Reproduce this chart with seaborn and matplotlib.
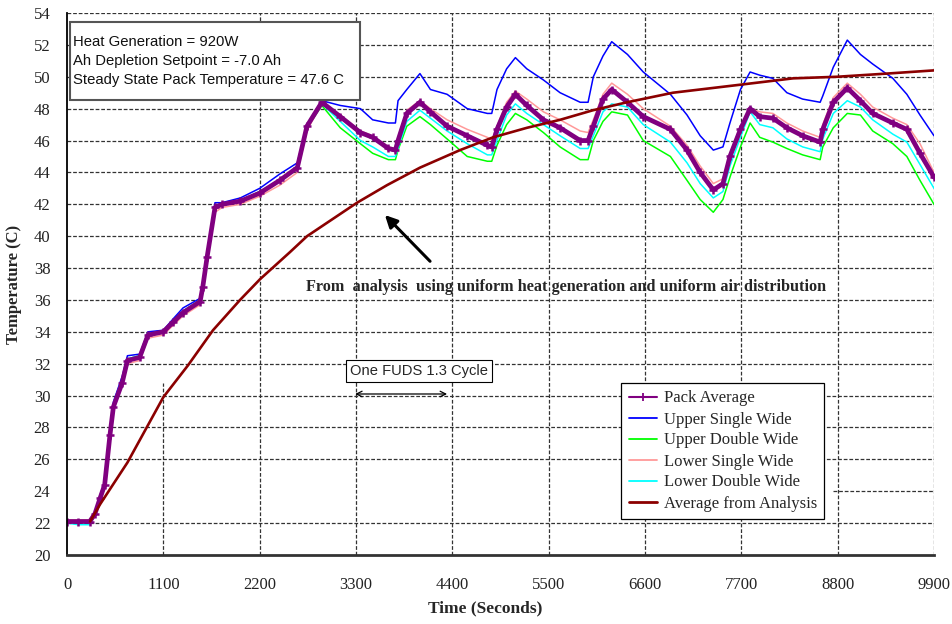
import numpy as np
import pandas as pd
import matplotlib
matplotlib.use("Agg")
import matplotlib.pyplot as plt
from matplotlib.lines import Line2D
from matplotlib.patches import Rectangle
import seaborn as sns

# ---------------- data ----------------
time_s = [0, 130, 260, 320, 380, 430, 490, 530, 630, 690, 830, 925, 1100, 1210, 1325,
          1520, 1550, 1600, 1690, 1770, 1980, 2200, 2430, 2630, 2740, 2910, 3120, 3350,
          3490, 3670, 3750, 3780, 3880, 4030, 4150, 4340, 4570, 4800, 4850, 4910, 5020,
          5120, 5250, 5440, 5630, 5860, 5950, 6010, 6120, 6220, 6400, 6580, 6890, 7080,
          7230, 7380, 7490, 7570, 7690, 7800, 7910, 8060, 8220, 8400, 8600, 8630, 8750,
          8910, 9060, 9200, 9430, 9590, 9740, 9900]

pack_avg = [22.1, 22.1, 22.1, 22.6, 23.6, 24.4, 27.5, 29.3, 30.8, 32.2, 32.4, 33.8, 34.0, 34.6, 35.2,
            35.9, 36.8, 38.7, 41.8, 42.0, 42.2, 42.7, 43.5, 44.3, 46.9, 48.4, 47.5, 46.5,
            46.2, 45.5, 45.4, 46.0, 47.7, 48.4, 47.8, 46.9, 46.3, 45.7, 45.6, 46.7, 48.1,
            48.9, 48.2, 47.3, 46.8, 46.0, 46.0, 46.9, 48.6, 49.2, 48.4, 47.5, 46.7, 45.4,
            44.0, 42.9, 43.3, 45.0, 46.7, 48.0, 47.5, 47.4, 46.8, 46.3, 45.9, 46.7, 48.4,
            49.3, 48.5, 47.7, 47.1, 46.7, 45.2, 43.7]

upper_single = [22.1, 22.1, 22.1, 22.7, 23.8, 24.6, 27.8, 29.6, 31.2, 32.5, 32.6, 34.0, 34.1, 34.8, 35.5,
                36.1, 37.0, 39.0, 42.1, 42.1, 42.4, 43.0, 43.9, 44.6, 47.0, 48.5, 48.2, 48.0,
                47.3, 47.1, 47.1, 48.5, 49.2, 50.2, 49.2, 48.9, 48.0, 47.7, 47.7, 49.2, 50.5,
                51.2, 50.5, 49.8, 49.0, 48.4, 48.4, 50.0, 51.3, 52.2, 51.4, 50.3, 48.9, 47.6,
                46.3, 45.4, 45.6, 47.1, 49.2, 50.3, 50.1, 49.9, 49.0, 48.6, 48.4, 48.8, 50.6,
                52.3, 51.4, 50.8, 49.9, 48.9, 47.6, 46.3]

upper_double = [22.1, 22.1, 22.1, 22.6, 23.7, 24.5, 27.6, 29.4, 30.9, 32.3, 32.5, 33.9, 34.0, 34.7, 35.3,
                36.0, 36.9, 38.8, 41.9, 42.0, 42.2, 42.8, 43.5, 44.4, 46.8, 48.2, 46.8, 45.8,
                45.2, 44.8, 44.8, 45.4, 46.9, 47.5, 47.0, 46.1, 45.0, 44.7, 44.7, 45.7, 47.0,
                47.7, 47.3, 46.5, 45.6, 44.8, 44.8, 46.0, 47.2, 47.8, 47.6, 46.0, 45.0, 43.5,
                42.3, 41.5, 42.3, 43.7, 45.6, 47.1, 46.2, 45.9, 45.5, 45.1, 44.8, 45.6, 46.8,
                47.7, 47.6, 46.6, 45.8, 45.0, 43.5, 42.0]

lower_single = [22.2, 22.2, 22.2, 22.5, 23.4, 24.2, 27.3, 29.1, 30.6, 32.0, 32.2, 33.6, 33.8, 34.4, 35.0,
                35.7, 36.5, 38.4, 41.5, 41.8, 42.0, 42.5, 43.2, 44.0, 46.6, 48.4, 47.6, 46.6,
                46.3, 45.6, 45.5, 46.2, 47.9, 48.5, 48.0, 47.3, 46.7, 46.2, 46.0, 46.9, 48.4,
                49.1, 48.6, 47.8, 47.3, 46.6, 46.5, 47.3, 48.9, 49.6, 48.9, 48.0, 46.9, 45.7,
                44.4, 43.3, 43.6, 45.2, 46.9, 48.0, 47.8, 47.7, 47.1, 46.6, 46.2, 47.0, 48.7,
                49.6, 48.9, 48.1, 47.4, 47.0, 45.8, 44.0]

lower_double = [22.0, 21.9, 21.9, 22.5, 23.7, 24.5, 27.7, 29.5, 31.0, 32.3, 32.5, 33.9, 34.0, 34.7, 35.3,
                36.0, 36.9, 38.8, 41.9, 42.0, 42.2, 42.8, 43.5, 44.3, 46.9, 48.3, 47.2, 46.0,
                45.6, 45.0, 45.0, 45.5, 47.2, 47.9, 47.4, 46.6, 45.8, 45.1, 45.1, 46.0, 47.6,
                48.3, 47.7, 47.0, 46.3, 45.5, 45.5, 46.3, 47.8, 48.3, 48.1, 47.0, 45.9, 44.6,
                43.3, 42.4, 42.8, 44.4, 46.2, 47.8, 47.0, 46.8, 46.1, 45.6, 45.3, 46.1, 47.7,
                48.5, 48.1, 47.3, 46.4, 45.9, 44.5, 43.0]

analysis_time = [263, 380, 690, 1100, 1382, 1667, 1976, 2204, 2546, 2741, 3312, 3654, 4031,
                 4488, 4865, 5253, 5630, 6006, 6395, 6920, 7685, 8290, 8793, 9363, 9900]
analysis_avg = [22.1, 23.2, 25.8, 29.9, 31.9, 34.1, 36.0, 37.3, 39.0, 40.0, 42.1, 43.2, 44.3,
                45.4, 46.2, 46.8, 47.3, 47.9, 48.4, 49.0, 49.5, 49.9, 50.0, 50.2, 50.4]

x_ticks = list(range(0, 9901, 1100))
y_ticks = list(range(20, 55, 2))

series_names = ["Pack Average", "Upper Single Wide", "Upper Double Wide",
                "Lower Single Wide", "Lower Double Wide", "Average from Analysis"]
series_colors = ["#800080", "#0000FF", "#00FF00", "#FF9999", "#00FFFF", "#8B0000"]

# ---------------- style ----------------
sns.set_theme(style="white")
plt.rcParams["font.family"] = ["Liberation Serif", "DejaVu Serif"]

fig = plt.figure(figsize=(9.52, 6.24), dpi=100)
ax = fig.add_axes([67 / 952, 1 - 555 / 624, 867 / 952, 542 / 624])

measured = pd.DataFrame({"t": time_s, "pack": pack_avg, "us": upper_single,
                         "ud": upper_double, "ls": lower_single, "ld": lower_double})
analysis = pd.DataFrame({"t": analysis_time, "avg": analysis_avg})

# grid (dashed), drawn manually to reproduce the reference
grid_kw = dict(color="#333333", lw=0.9, ls=(0, (3, 1.5)), zorder=0.5)
for yv in y_ticks[1:]:
    if yv == 24:
        ax.axhline(yv, xmin=(833 - 67) / 867, xmax=1, **grid_kw)
    else:
        ax.axhline(yv, **grid_kw)
for xv in x_ticks[1:]:
    if xv == 1100:
        ax.axvline(xv, ymin=0, ymax=(555 - 383) / 542, **grid_kw)
    else:
        ax.axvline(xv, **grid_kw)

common = dict(estimator=None, sort=False, ax=ax, legend=False)
sns.lineplot(data=measured, x="t", y="us", color=series_colors[1], lw=1.1, **common)
sns.lineplot(data=measured, x="t", y="ud", color=series_colors[2], lw=1.1, **common)
sns.lineplot(data=measured, x="t", y="ls", color=series_colors[3], lw=1.1, **common)
sns.lineplot(data=measured, x="t", y="ld", color=series_colors[4], lw=1.1, **common)
sns.lineplot(data=measured, x="t", y="pack", color=series_colors[0], lw=3.4,
             marker="+", markersize=5.5, markeredgewidth=1.8,
             markeredgecolor=series_colors[0], **common)
sns.lineplot(data=analysis, x="t", y="avg", color=series_colors[5], lw=1.9, **common)

ax.set_xlim(0, 9900)
ax.set_ylim(20, 54)
ax.set_xticks(x_ticks)
ax.set_yticks(y_ticks)
ax.tick_params(axis="both", which="major", labelsize=12, colors="#222222",
               direction="out", length=5, width=1)
ax.tick_params(axis="x", pad=11)
ax.tick_params(axis="y", pad=7)
for side in ("top", "right"):
    ax.spines[side].set_visible(False)
ax.spines["left"].set_color("black")
ax.spines["left"].set_linewidth(1.3)
ax.spines["bottom"].set_color("#333333")
ax.spines["bottom"].set_linewidth(2)

ax.set_xlabel("Time (Seconds)", fontsize=12.5, fontweight="bold")
ax.set_ylabel("Temperature (C)", fontsize=12, fontweight="bold")
ax.xaxis.set_label_coords((485 - 67) / 867, -45 / 542)
ax.yaxis.set_label_coords((22 - 67) / 867, 0.5)

# info box
ax.add_patch(Rectangle(((70 - 67) / 867, (555 - 100) / 542), (360 - 70) / 867, 78 / 542,
                       transform=ax.transAxes, facecolor="white", edgecolor="#555555",
                       lw=1.5, zorder=5))
info_lines = ["Heat Generation = 920W", "Ah Depletion Setpoint = -7.0 Ah",
              "Steady State Pack Temperature = 47.6 C"]
for py, line in zip([42, 61, 80], info_lines):
    ax.text((73 - 67) / 867, (555 - py) / 542, line, transform=ax.transAxes,
            fontsize=10.7, family=["Liberation Sans", "DejaVu Sans"], color="#111111",
            ha="left", va="center", zorder=6)

# analysis annotation
ax.text(5700, 36.8, "From  analysis  using uniform heat generation and uniform air distribution",
        fontsize=11.7, fontweight="bold", ha="center", va="center", zorder=4)
ax.annotate("", xy=(3608, 41.45), xytext=(4168, 38.3),
            arrowprops=dict(arrowstyle="-|>", lw=2.2, color="black", mutation_scale=18),
            zorder=4)

# FUDS cycle annotation
ax.text(4020, 31.55, "One FUDS 1.3 Cycle", fontsize=10.6, family=["Liberation Sans", "DejaVu Sans"],
        ha="center", va="center", zorder=6,
        bbox=dict(boxstyle="square,pad=0.25", fc="white", ec="black", lw=0.8))
ax.annotate("", xy=(3290, 30.1), xytext=(4340, 30.1),
            arrowprops=dict(arrowstyle="<->", lw=0.9, color="black", mutation_scale=10,
                            shrinkA=0, shrinkB=0), zorder=6)

# legend
handles = [Line2D([], [], color=series_colors[0], lw=1.5, marker="+",
                  markersize=6, markeredgewidth=1.3)]
for c in series_colors[1:5]:
    handles.append(Line2D([], [], color=c, lw=1.3))
handles.append(Line2D([], [], color=series_colors[5], lw=2))
leg = ax.legend(handles, series_names, loc="upper left",
                bbox_to_anchor=((621 - 67) / 867, (555 - 383) / 542),
                fontsize=12, frameon=True, fancybox=False, framealpha=1,
                edgecolor="black", handlelength=1.7, handletextpad=0.4,
                labelspacing=0.3, borderpad=0.45, borderaxespad=0, numpoints=1)
leg.get_frame().set_linewidth(0.9)
leg.set_zorder(7)

fig.savefig("out.png", dpi=100)
